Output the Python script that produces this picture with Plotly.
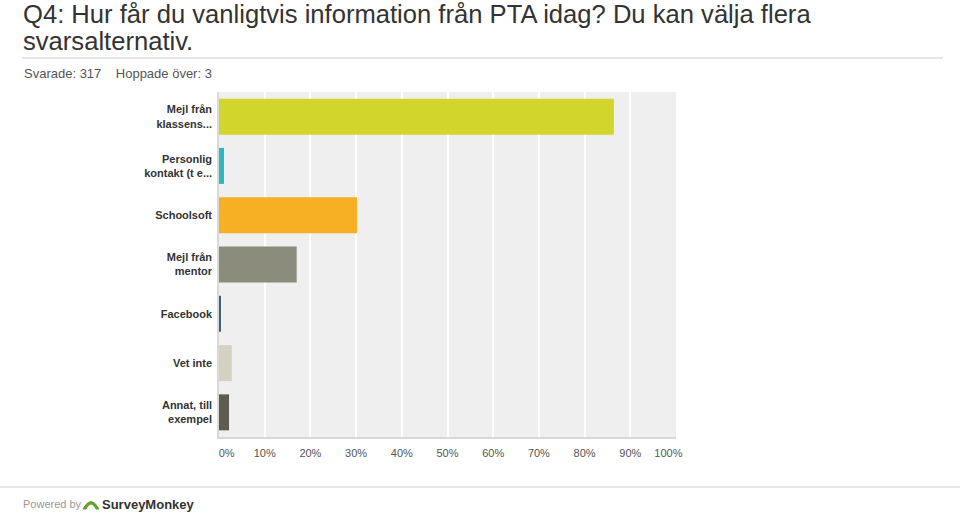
import plotly.graph_objects as go

categories = ["Mejl från<br>klassens...", "Personlig<br>kontakt (t e...", "Schoolsoft",
              "Mejl från<br>mentor", "Facebook", "Vet inte", "Annat, till<br>exempel"]
values = [86.4, 1.1, 30.2, 17.0, 0.3, 2.8, 2.2]
colors = ["#d1d52c", "#2fb6be", "#f7af23", "#8b8c7c", "#3d6272", "#d4d2c2", "#5d5c4e"]
tick_vals = [0, 10, 20, 30, 40, 50, 60, 70, 80, 90, 100]
tick_text = [f"{v}%" for v in tick_vals]

title_lines = ["Q4: Hur får du vanligtvis information från PTA idag? Du kan välja flera",
               "svarsalternativ."]
sub_text = "Svarade: 317&nbsp;&nbsp;&nbsp;&nbsp;Hoppade över: 3"

W, H = 960, 515
L, R, T, B = 219, 676, 92, 437

def px(x):
    return (x - L) / (R - L)

def py(y):
    return (B - y) / (B - T)

# first label sits inside the left edge, last inside the right edge (as in the reference)
pad = "&nbsp;" * 5
shown_ticks = list(tick_text)
shown_ticks[0] = pad + shown_ticks[0]
shown_ticks[-1] = shown_ticks[-1] + pad

fig = go.Figure(go.Bar(
    x=values, y=categories, orientation="h",
    marker=dict(color=colors, line=dict(width=0)),
    width=0.73, hoverinfo="skip",
))

fig.update_layout(
    width=W, height=H, autosize=False,
    margin=dict(l=L, r=W - R, t=T, b=H - B, pad=0),
    paper_bgcolor="white", plot_bgcolor="#efefef",
    font=dict(family="Liberation Sans, Arial, sans-serif", color="#333"),
    showlegend=False,
    xaxis=dict(range=[0, 100], tickvals=tick_vals, ticktext=shown_ticks,
               showgrid=True, gridcolor="white", gridwidth=1.5,
               zeroline=False, showline=True, linecolor="#d8d8d8", linewidth=2,
               tickfont=dict(size=11, color="#555"), ticks="", ticklabelstandoff=5,
               fixedrange=True),
    yaxis=dict(autorange="reversed", showgrid=False, zeroline=False,
               showline=True, linecolor="#d8d8d8", linewidth=1.5,
               tickfont=dict(size=11, color="#333", weight="bold"), ticks="",
               ticklabelstandoff=3, fixedrange=True),
    bargap=0.27,
)

annotations = [
    dict(text=title_lines[0], x=px(21), y=py(13.5), xref="paper", yref="paper",
         xanchor="left", yanchor="middle", align="left", showarrow=False,
         font=dict(size=25.6, color="#333")),
    dict(text=title_lines[1], x=px(21), y=py(40.5), xref="paper", yref="paper",
         xanchor="left", yanchor="middle", align="left", showarrow=False,
         font=dict(size=25.6, color="#333")),
    dict(text=sub_text, x=px(22), y=py(73), xref="paper", yref="paper",
         xanchor="left", yanchor="middle", align="left", showarrow=False,
         font=dict(size=13, color="#555")),
    dict(text="Powered by", x=px(21), y=py(504), xref="paper", yref="paper",
         xanchor="left", yanchor="middle", showarrow=False,
         font=dict(size=11, color="#999")),
    dict(text="SurveyMonkey", x=px(100), y=py(504), xref="paper", yref="paper",
         xanchor="left", yanchor="middle", showarrow=False,
         font=dict(size=13, color="#333", weight="bold")),
]
for a in annotations:
    fig.add_annotation(**a)

shapes = [
    dict(type="line", xref="paper", yref="paper", x0=px(22), x1=px(943),
         y0=py(58), y1=py(58), line=dict(color="#dcdcdc", width=1.5)),
    dict(type="line", xref="paper", yref="paper", x0=px(0), x1=px(960),
         y0=py(487), y1=py(487), line=dict(color="#dcdcdc", width=1.5)),
    # logo icon
    dict(type="path", xref="paper", yref="paper",
         path=f"M {px(83)},{py(509)} Q {px(91)},{py(494)} {px(99)},{py(509)} "
              f"L {px(96)},{py(509)} Q {px(91)},{py(499)} {px(86)},{py(509)} Z",
         fillcolor="#64a12d", line=dict(color="#64a12d", width=1)),
]
for s in shapes:
    fig.add_shape(**s)

fig.write_html("out.html", config={"displayModeBar": False},
               post_script="document.body.style.margin='0';document.body.style.overflow='hidden';")
